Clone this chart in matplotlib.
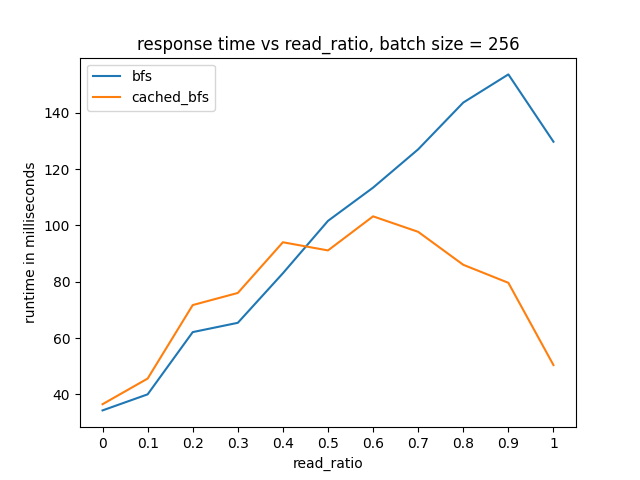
import matplotlib
matplotlib.use('Agg')
import matplotlib.pyplot as plt

read_ratio = [0, 0.1, 0.2, 0.3, 0.4, 0.5, 0.6, 0.7, 0.8, 0.9, 1]
tick_labels = ['0', '0.1', '0.2', '0.3', '0.4', '0.5', '0.6', '0.7', '0.8', '0.9', '1']
bfs = [34.3, 40.0, 62.1, 65.4, 83.0, 101.6, 113.4, 127.0, 143.6, 153.6, 129.7]
cached_bfs = [36.5, 45.6, 71.7, 76.0, 94.0, 91.1, 103.2, 97.7, 86.0, 79.6, 50.4]

fig, ax = plt.subplots(figsize=(6.4, 4.8), dpi=100)
ax.plot(read_ratio, bfs, label='bfs')
ax.plot(read_ratio, cached_bfs, label='cached_bfs')
ax.set_xticks(read_ratio)
ax.set_xticklabels(tick_labels)
ax.set_xlabel('read_ratio')
ax.set_ylabel('runtime in milliseconds')
ax.set_title('response time vs read_ratio, batch size = 256')
ax.legend(loc='upper left')
fig.savefig('out.png')
